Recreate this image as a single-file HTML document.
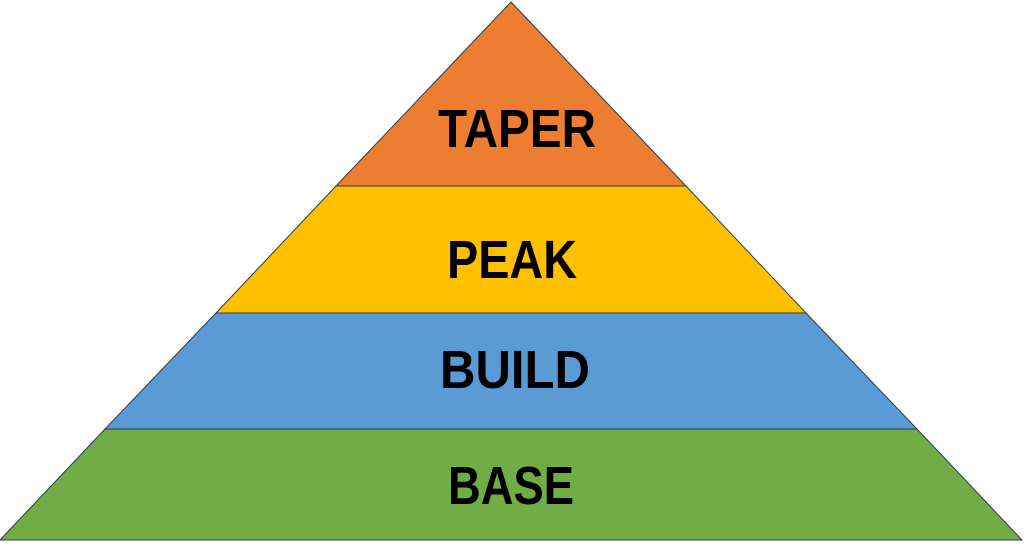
<!DOCTYPE html>
<html><head><meta charset="utf-8"><style>html,body{margin:0;padding:0;background:#fff;width:1024px;height:558px;overflow:hidden}</style></head>
<body>
<svg width="1024" height="558" viewBox="0 0 1024 558" xmlns="http://www.w3.org/2000/svg">
<g stroke="#2f3b4a" stroke-width="1">
<polygon points="511,2 686,186 336,186" fill="#ED7D31"/>
<polygon points="336,186 686,186 806,313 216,313" fill="#FFC000"/>
<polygon points="216,313 806,313 917,429 105,429" fill="#5B9BD5"/>
<polygon points="105,429 917,429 1022,540 0,540" fill="#70AD47"/>
</g>
<g font-family="Liberation Sans, sans-serif" font-weight="bold" font-size="54" fill="#000" text-anchor="start">
<text x="438" y="147" textLength="158" lengthAdjust="spacingAndGlyphs">TAPER</text>
<text x="447" y="278" textLength="130" lengthAdjust="spacingAndGlyphs">PEAK</text>
<text x="440" y="388" textLength="150" lengthAdjust="spacingAndGlyphs">BUILD</text>
<text x="448" y="504" textLength="126" lengthAdjust="spacingAndGlyphs">BASE</text>
</g>
</svg>
</body></html>
